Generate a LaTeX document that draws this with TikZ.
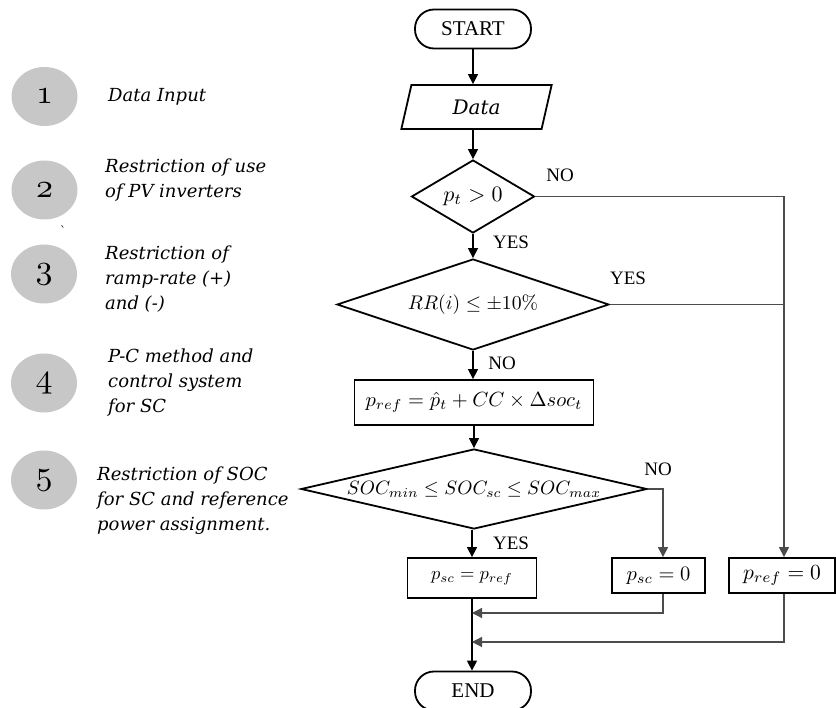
\documentclass[tikz,border=0pt]{standalone}
\usepackage{graphicx}
\usepackage[no-math]{fontspec}
\setmainfont{Liberation Serif}
\newfontfamily\notefont{DejaVu Serif}
\usetikzlibrary{shapes.geometric,arrows.meta}
% formulas are set at 10pt and enlarged, so the math fonts scale freely
\newcommand{\flowmath}[2][2.1]{{\fontsize{10}{12}\selectfont\scalebox{#1}{$#2$}}}
\newcommand{\stepdigit}[1]{{\fontsize{10}{12}\selectfont\scalebox{3.4}{$\mathnormal{#1}$}}}

\begin{document}
\begin{tikzpicture}[x=1pt,y=-1pt,
  tip/.style={-{Triangle[length=10pt,width=10pt]}},
  conn/.style={draw=black,line width=1.4pt,tip},
  route/.style={draw=black!70,line width=1.3pt},
  terminal/.style={draw,line width=1.8pt,rectangle,rounded corners=19pt,
    minimum width=116pt,minimum height=39pt,inner sep=0pt,
    font=\fontsize{21}{21}\selectfont},
  proc/.style={draw,line width=1.8pt,rectangle,inner sep=0pt},
  decision/.style={draw,line width=1.8pt,diamond,inner sep=0pt},
  iobox/.style={draw,line width=1.8pt,trapezium,trapezium left angle=76,
    trapezium right angle=104,trapezium stretches=true,inner sep=0pt,
    minimum width=151pt,minimum height=44pt,
    font=\notefont\itshape\fontsize{20}{20}\selectfont},
  tag/.style={font=\fontsize{19}{19}\selectfont},
  stepnum/.style={ellipse,minimum width=66pt,minimum height=59pt,inner sep=0pt,
    fill=black!22},
  note/.style={anchor=west,align=left,inner sep=0pt,
    font=\notefont\itshape\fontsize{18}{25}\selectfont}
]
\useasboundingbox (0,0) rectangle (836,708);

% step markers and their captions
\node[stepnum] (n1) at (44.5,96.5) {\stepdigit{1}};
\node[stepnum] (n2) at (44.5,190) {\stepdigit{2}};
\node[stepnum] (n3) at (44,274) {\stepdigit{3}};
\node[stepnum] (n4) at (44,383) {\stepdigit{4}};
\node[stepnum] (n5) at (44,480) {\stepdigit{5}};

\node[note] (c1) at (108,97) {Data Input};
\node[note] (c2) at (105,180.5) {Restriction of use\\of PV inverters};
\node[note,font=\notefont\fontsize{12}{12}\selectfont] (tick) at (60,231) {\textasciigrave};
\node[note] (c3) at (105,279) {Restriction of\\ramp-rate (+)\\and (-)};
\node[note] (c4) at (108,383) {P-C method and\\control system\\for SC};
\node[note] (c5) at (97,501) {Restriction of SOC\\for SC and reference\\power assignment.};

% main column
\node[terminal] (start) at (473,29) {START};
\node[iobox] (data) at (476.5,107) {Data};
\node[decision,minimum width=123pt,minimum height=73pt] (d1) at (473,196.5)
  {\makebox[0pt]{\flowmath[2.2]{p_t > 0}}};
\node[decision,minimum width=272pt,minimum height=91pt] (d2) at (473,304.5)
  {\makebox[0pt]{\flowmath[1.97]{RR(i) \le \pm 10\%}}};
\node[proc,minimum width=239pt,minimum height=45pt] (calc) at (474,402.5)
  {\flowmath[2.05]{p_{ref} = \hat{p}_t + CC \times \Delta soc_t}};
\node[decision,minimum width=346pt,minimum height=80pt] (d3) at (474,489)
  {\makebox[0pt]{\flowmath[1.93]{SOC_{min} \le SOC_{sc} \le SOC_{max}}}};
\node[proc,minimum width=129pt,minimum height=40pt] (psc) at (472,578)
  {\flowmath[1.85]{p_{sc} = p_{ref}}};
\node[proc,minimum width=93pt,minimum height=35pt] (psc0) at (658.5,575.5)
  {\flowmath[2.05]{p_{sc} = 0}};
\node[proc,minimum width=106pt,minimum height=35pt] (pref0) at (782,575.5)
  {\flowmath[2.15]{p_{ref} = 0}};
\node[terminal] (end) at (473,691) {END};

% routing helpers
\coordinate (rx) at (784,0);
\coordinate (nx) at (663,0);
\coordinate (m1) at (472,613);
\coordinate (m2) at (472,642);

% connectors
\draw[conn] (start.south) -- (start.south |- data.north);
\draw[conn] (data.south -| d1.north) -- (d1.north);
\draw[conn] (d1.south) -- (d2.north);
\draw[conn] (d2.south) -- (d2.south |- calc.north);
\draw[conn] (calc.south -| d3.north) -- (d3.north);
\draw[conn] (d3.south -| psc.north) -- (psc.north);
\draw[conn] (psc.south) -- (psc.south |- end.north);
\draw[route,tip] (d1.east) -| (pref0.north -| rx);
\draw[route] (d2.east) -- (d2.east -| rx);
\draw[route,tip] (d3.east) -| (psc0.north -| nx);
\draw[route,tip] (psc0.south -| nx) |- (m1);
\draw[route,tip] (pref0.south -| rx) |- (m2);

% branch labels
\node[tag] (no1) at (560,175) {NO};
\node[tag] (yes1) at (511,242) {YES};
\node[tag] (yes2) at (628,278) {YES};
\node[tag] (no2) at (502,363) {NO};
\node[tag] (no3) at (658,469) {NO};
\node[tag] (yes3) at (511,543) {YES};
\end{tikzpicture}
\end{document}
